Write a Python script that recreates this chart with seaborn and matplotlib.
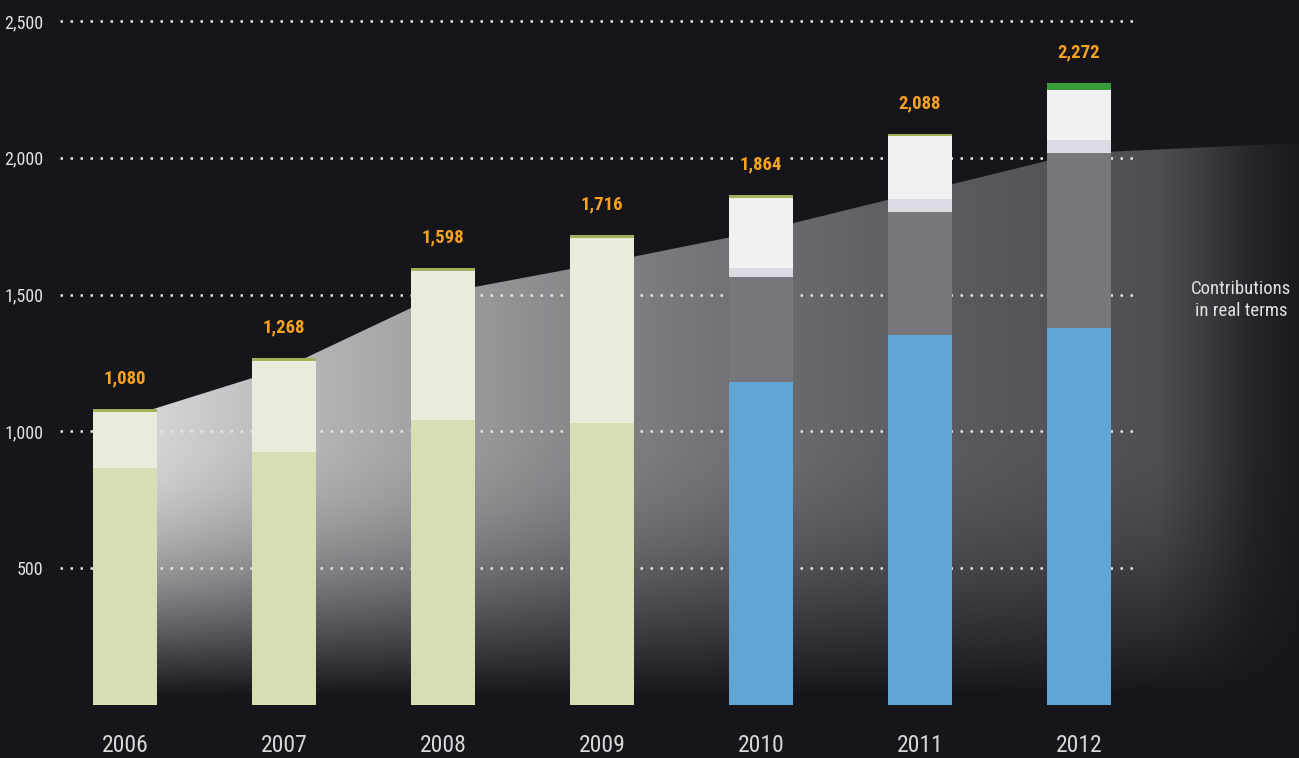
import numpy as np
import matplotlib
matplotlib.use("Agg")
import matplotlib.pyplot as plt
from matplotlib.patches import Polygon
import seaborn as sns

# ---------------- data ----------------
years = ["2006", "2007", "2008", "2009", "2010", "2011", "2012"]
totals = [1080, 1268, 1598, 1716, 1864, 2088, 2272]
base = [866, 924, 1043, 1030, 1180, 1352, 1377]
middle = [204, 333, 543, 676, 383, 449, 640]
upper = [0, 0, 0, 0, 34, 48, 48]
top_band = [0, 0, 0, 0, 256, 229, 182]
cap = [10, 11, 12, 10, 11, 10, 25]
real_terms = [1049, 1231, 1506, 1615, 1732, 1875, 2017]
real_terms_tail = 2054
y_ticks = [500, 1000, 1500, 2000, 2500]
y_tick_labels = ["500", "1,000", "1,500", "2,000", "2,500"]
area_label = "Contributions\nin real terms"

# ---------------- style ----------------
BG = "#16151a"
sns.set_theme(style="dark")
plt.rcParams["font.family"] = ["Roboto Condensed", "Roboto", "DejaVu Sans"]

fig = plt.figure(figsize=(12.99, 7.58), dpi=100, facecolor=BG)
ax = fig.add_axes([60 / 1299, 53.25 / 758, 1239 / 1299, 704.75 / 758])
ax.set_facecolor(BG)
XMIN, XMAX = -0.409, 7.384
YMAX = 2577
GRID_END = 6.384

# ---------------- stacked bars (cumulative overlay) ----------------
c1 = np.array(base, dtype=float)
c2 = c1 + np.array(middle)
c3 = c2 + np.array(upper)
c4 = c3 + np.array(top_band)
c5 = c4 + np.array(cap)

col_base = ["#d7deb4"] * 4 + ["#5fa6d5"] * 3
col_mid = ["#e9ecdc"] * 4 + ["#76767c"] * 3
col_upper = ["#e9ecdc"] * 4 + ["#dcdce4"] * 3
col_top = ["#e9ecdc"] * 4 + ["#f1f1f3"] * 3
col_cap = ["#a3b25a"] * 6 + ["#3a9b3a"]

for vals, cols in [(c5, col_cap), (c4, col_top), (c3, col_upper),
                   (c2, col_mid), (c1, col_base)]:
    sns.barplot(x=years, y=vals, hue=years, palette=dict(zip(years, cols)),
                legend=False, width=0.4, saturation=1, linewidth=0,
                ax=ax, zorder=3)

# ---------------- gradient area ----------------
xpos = list(range(len(years))) + [XMAX]
ypos = real_terms + [real_terms_tail]
verts = [(0, 0)] + list(zip(xpos, ypos)) + [(XMAX, 0)]
poly = Polygon(verts, closed=True, facecolor="none", edgecolor="none",
               transform=ax.transData)
ax.add_patch(poly)

gx = np.linspace(0, XMAX, 900)
gv = np.linspace(0, 2150, 500)
hx = [0.0, 0.2, 1.0, 2.0, 3.0, 4.0, 5.0, 6.0, 6.5, 6.8, 7.1, XMAX]
hv = [1.0, 1.0, 0.86, 0.72, 0.57, 0.46, 0.37, 0.32, 0.30, 0.20, 0.08, 0.02]
H = np.interp(gx, hx, hv)
V = np.sin(np.pi / 2 * np.clip((gv - 30) / 970, 0, 1))
I = V[:, None] * H[None, :]
bg_rgb = np.array([22, 21, 26]) / 255
peak = np.array([212, 212, 214]) / 255
img = bg_rgb + (peak - bg_rgb) * I[..., None]
im = ax.imshow(img, extent=[0, XMAX, 0, 2150], origin="lower", aspect="auto",
               interpolation="bilinear", zorder=1)
im.set_clip_path(poly)

# ---------------- gridlines ----------------
ax.hlines(y_ticks, XMIN, GRID_END, colors="#e6e6e6",
          linestyles=[(0, (1, 3))], linewidth=1.8, zorder=2)

# ---------------- labels ----------------
for i, t in enumerate(totals):
    ax.text(i, c5[i] + 112, f"{t:,}", ha="center", va="center",
            color="#f4a21f", fontsize=13.5, fontweight="bold", zorder=4,
            bbox=dict(facecolor=BG, edgecolor="none", pad=1))

ax.text(7.02, 1480, area_label, ha="center", va="center", color="#e2e2e2",
        fontsize=13.5, linespacing=1.25, zorder=4)

ax.set_yticks(y_ticks, y_tick_labels)
ax.set_xticks(range(len(years)), years)
ax.tick_params(axis="y", length=0, pad=12, labelcolor="#e2e2e2", labelsize=13)
ax.tick_params(axis="x", length=0, pad=21, labelcolor="#d8d8d8", labelsize=17)
ax.set_xlabel("")
ax.set_ylabel("")
ax.grid(False)
for s in ax.spines.values():
    s.set_visible(False)

ax.set_xlim(XMIN, XMAX)
ax.set_ylim(0, YMAX)

fig.savefig("out.png", dpi=100, facecolor=BG)
